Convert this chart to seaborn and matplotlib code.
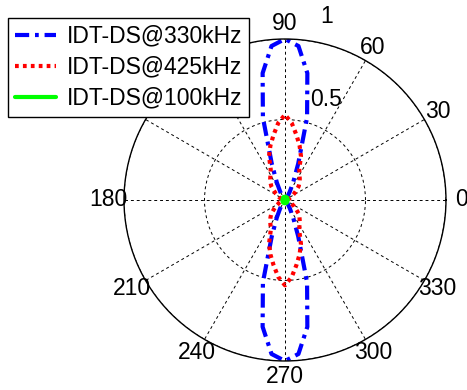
import numpy as np
import pandas as pd
import matplotlib
matplotlib.use("Agg")
import matplotlib.pyplot as plt
import seaborn as sns

# ---- data (angles in degrees, normalised amplitude) ----
angles_deg = [0, 5, 10, 15, 20, 25, 30, 35, 40, 45, 50, 55, 60, 65, 70, 75, 80, 85,
              90, 95, 100, 105, 110, 115, 120, 125, 130, 135, 140, 145, 150, 155, 160, 165, 170, 175,
              180, 185, 190, 195, 200, 205, 210, 215, 220, 225, 230, 235, 240, 245, 250, 255, 260, 265,
              270, 275, 280, 285, 290, 295, 300, 305, 310, 315, 320, 325, 330, 335, 340, 345, 350, 355, 360]

r_330k = [0.01, 0.01, 0.01, 0.01, 0.01, 0.01, 0.01, 0.01, 0.01, 0.015, 0.02, 0.03, 0.06, 0.12, 0.24, 0.53, 0.80, 0.96,
          1.00, 0.96, 0.80, 0.53, 0.24, 0.12, 0.06, 0.03, 0.02, 0.015, 0.01, 0.01, 0.01, 0.01, 0.01, 0.01, 0.01, 0.01,
          0.01, 0.01, 0.01, 0.01, 0.01, 0.01, 0.01, 0.01, 0.01, 0.015, 0.02, 0.03, 0.06, 0.12, 0.24, 0.53, 0.80, 0.96,
          1.00, 0.96, 0.80, 0.53, 0.24, 0.12, 0.06, 0.03, 0.02, 0.015, 0.01, 0.01, 0.01, 0.01, 0.01, 0.01, 0.01, 0.01, 0.01]

r_425k = [0.02, 0.02, 0.02, 0.02, 0.03, 0.04, 0.05, 0.07, 0.09, 0.12, 0.14, 0.16, 0.18, 0.21, 0.29, 0.35, 0.41, 0.48,
          0.53, 0.48, 0.41, 0.35, 0.29, 0.21, 0.18, 0.16, 0.14, 0.12, 0.09, 0.07, 0.05, 0.04, 0.03, 0.02, 0.02, 0.02,
          0.02, 0.02, 0.02, 0.02, 0.03, 0.04, 0.05, 0.07, 0.09, 0.12, 0.14, 0.16, 0.18, 0.21, 0.29, 0.35, 0.41, 0.48,
          0.53, 0.48, 0.41, 0.35, 0.29, 0.21, 0.18, 0.16, 0.14, 0.12, 0.09, 0.07, 0.05, 0.04, 0.03, 0.02, 0.02, 0.02, 0.02]

r_100k = [0.015, 0.015, 0.014, 0.014, 0.015, 0.016, 0.017, 0.018, 0.018, 0.019, 0.020, 0.020, 0.020, 0.020, 0.020, 0.020, 0.020, 0.020,
          0.020, 0.020, 0.020, 0.020, 0.020, 0.020, 0.020, 0.020, 0.019, 0.018, 0.018, 0.017, 0.016, 0.015, 0.014, 0.014, 0.015, 0.015,
          0.015, 0.015, 0.014, 0.014, 0.015, 0.016, 0.017, 0.018, 0.018, 0.019, 0.020, 0.020, 0.020, 0.020, 0.020, 0.020, 0.020, 0.020,
          0.020, 0.020, 0.020, 0.020, 0.020, 0.020, 0.020, 0.020, 0.019, 0.018, 0.018, 0.017, 0.016, 0.015, 0.014, 0.014, 0.015, 0.015, 0.015]

series_labels = ["IDT-DS@330kHz", "IDT-DS@425kHz", "IDT-DS@100kHz"]
theta_ticks = [0, 30, 60, 90, 120, 150, 180, 210, 240, 270, 300, 330]
r_tick_labels = ["0.5", "1"]

# ---- style ----
sns.set_style("white")
plt.rcParams["font.family"] = ["Liberation Sans", "DejaVu Sans"]
plt.rcParams["text.color"] = "black"
plt.rcParams["xtick.color"] = "black"
plt.rcParams["ytick.color"] = "black"

fig = plt.figure(figsize=(4.67, 3.90), dpi=100)
ax = fig.add_axes([0.2655, 0.0744, 0.6895, 0.8256], projection="polar")

theta = np.deg2rad(angles_deg)
colors = ["#0000ff", "#ff0000", "#00ff00"]
styles = [(0, (3.4, 1.4, 0.9, 1.4)), (0, (0.9, 1.0)), "-"]
for r, lab, c, ls in zip([r_330k, r_425k, r_100k], series_labels, colors, styles):
    df = pd.DataFrame({"theta": theta, "r": r})
    sns.lineplot(data=df, x="theta", y="r", sort=False, estimator=None, ax=ax,
                 color=c, linewidth=3.0, linestyle=ls, label=lab)

ax.set_ylim(0, 1)
ax.set_xlabel("")
ax.set_ylabel("")
ax.set_rticks([0.5, 1.0])
ax.set_yticklabels([])
ax.set_thetagrids(theta_ticks, [str(t) for t in theta_ticks], fontsize=16.5, color="black")
ax.tick_params(axis="x", pad=0.5)
ax.grid(True, color="black", linestyle=(0, (3, 3)), linewidth=0.7)
ax.spines["polar"].set_color("black")
ax.spines["polar"].set_linewidth(1.0)

ax.text(np.deg2rad(67.7), 0.675, r_tick_labels[0], fontsize=16.5, ha="center", va="center", color="black")
ax.text(np.deg2rad(77.3), 1.17, r_tick_labels[1], fontsize=16.5, ha="center", va="center", color="black")

leg = ax.legend(loc="upper left", bbox_to_anchor=(8 / 467, 1 - 18 / 390),
                bbox_transform=fig.transFigure, fontsize=16.5, frameon=True,
                fancybox=False, framealpha=1, edgecolor="black", borderaxespad=0,
                handlelength=1.8, labelspacing=0.35, borderpad=0.3, handletextpad=0.45)
leg.get_frame().set_linewidth(1.0)
for t in leg.get_texts():
    t.set_color("black")
leg.set_zorder(10)

fig.savefig("out.png", dpi=100)
